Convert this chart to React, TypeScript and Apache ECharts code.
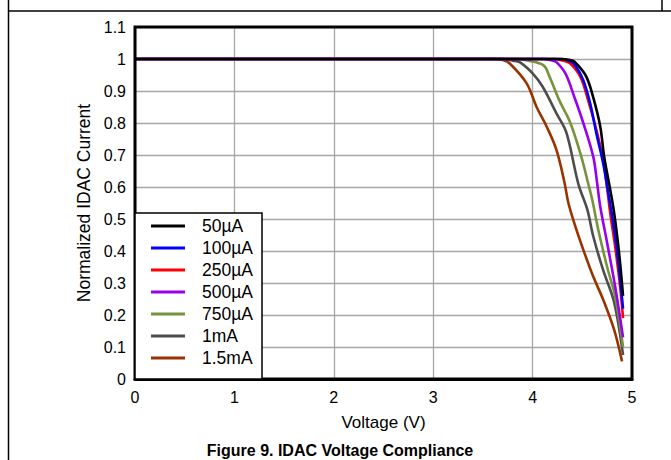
import React, { useEffect, useRef } from "react";
import * as echarts from "echarts";

const seriesNames = ["50µA", "100µA", "250µA", "500µA", "750µA", "1mA", "1.5mA"];
const seriesColors = ["#000000", "#0000ff", "#ff0000", "#9900ee", "#77933c", "#4d4d4d", "#993300"];

const v50 = [0, 4.3, 4.4, 4.44, 4.54, 4.61, 4.68, 4.72, 4.77, 4.82, 4.87, 4.91];
const i50 = [1, 1, 0.995, 0.986, 0.945, 0.88, 0.79, 0.695, 0.61, 0.52, 0.394, 0.26];

const v100 = [0, 4.28, 4.38, 4.43, 4.51, 4.58, 4.64, 4.71, 4.745, 4.8, 4.85, 4.91];
const i100 = [1, 1, 0.993, 0.98, 0.934, 0.86, 0.77, 0.674, 0.61, 0.51, 0.4, 0.22];

const v250 = [0, 4.22, 4.32, 4.38, 4.48, 4.56, 4.64, 4.71, 4.745, 4.78, 4.83, 4.88, 4.91];
const i250 = [1, 1, 0.994, 0.986, 0.945, 0.87, 0.78, 0.684, 0.61, 0.52, 0.415, 0.29, 0.19];

const v500 = [0, 4.1, 4.2, 4.24, 4.33, 4.41, 4.51, 4.61, 4.65, 4.68, 4.75, 4.83, 4.91];
const i500 = [1, 1, 0.995, 0.99, 0.955, 0.89, 0.8, 0.695, 0.61, 0.54, 0.425, 0.29, 0.13];

const v750 = [0, 3.85, 3.95, 4.11, 4.17, 4.27, 4.38, 4.49, 4.56, 4.6, 4.66, 4.75, 4.83, 4.91];
const i750 = [1, 1, 0.995, 0.98, 0.945, 0.87, 0.8, 0.695, 0.61, 0.56, 0.467, 0.35, 0.258, 0.1];

const v1m = [0, 3.7, 3.8, 3.87, 4.0, 4.1, 4.24, 4.34, 4.46, 4.55, 4.61, 4.71, 4.82, 4.91];
const i1m = [1, 1, 0.995, 0.99, 0.955, 0.914, 0.83, 0.77, 0.61, 0.53, 0.446, 0.34, 0.24, 0.075];

const v15m = [0, 3.6, 3.7, 3.77, 3.94, 4.04, 4.14, 4.24, 4.32, 4.36, 4.43, 4.51, 4.61, 4.71, 4.82, 4.9];
const i15m = [1, 1, 0.997, 0.986, 0.924, 0.85, 0.79, 0.716, 0.615, 0.55, 0.477, 0.404, 0.32, 0.248, 0.154, 0.055];

const voltages = [v50, v100, v250, v500, v750, v1m, v15m];
const currents = [i50, i100, i250, i500, i750, i1m, i15m];

const xTicks = ["0", "1", "2", "3", "4", "5"];
const yTicks = ["0", "0.1", "0.2", "0.3", "0.4", "0.5", "0.6", "0.7", "0.8", "0.9", "1", "1.1"];

const xName = "Voltage (V)";
const yName = "Normalized IDAC Current";
const figTitle = "Figure 9. IDAC Voltage Compliance";

const FONT = "'Liberation Sans', Arial, sans-serif";

export default function App() {
  const ref = useRef<HTMLDivElement>(null);
  useEffect(() => {
    if (!ref.current) return;
    const chart = echarts.init(ref.current, null, { renderer: "svg" });
    const series = seriesNames.map((name, k) => ({
      name,
      type: "line",
      data: voltages[k].map((v, j) => [v, currents[k][j]]),
      smooth: 0.35,
      showSymbol: false,
      symbol: "none",
      z: 2 + (seriesNames.length - k) * 0.01,
      lineStyle: { color: seriesColors[k], width: 2.6 },
      itemStyle: { color: seriesColors[k] },
    }));

    // legend box drawn with graphics
    const legendTop = 213;
    const legendRowGap = 22;
    const legendFirst = 226;
    const legendGraphics: any[] = [
      {
        type: "rect",
        z: 5,
        shape: { x: 135, y: legendTop, width: 127, height: 379 - legendTop },
        style: { fill: "#fff", stroke: "#000", lineWidth: 1.5 },
      },
    ];
    seriesNames.forEach((name, k) => {
      const y = legendFirst + k * legendRowGap;
      legendGraphics.push({
        type: "line",
        z: 6,
        shape: { x1: 151, y1: y, x2: 185, y2: y },
        style: { stroke: seriesColors[k], lineWidth: 3 },
      });
      legendGraphics.push({
        type: "text",
        z: 6,
        x: 202,
        y,
        style: {
          text: name,
          fontSize: 17.5,
          fontFamily: FONT,
          fill: "#000",
          align: "left",
          verticalAlign: "middle",
        },
      });
    });

    chart.setOption({
      animation: false,
      backgroundColor: "#ffffff",
      textStyle: { fontFamily: FONT },
      grid: {
        left: 135,
        top: 27,
        right: 39,
        bottom: 81,
        show: true,
        borderColor: "#000",
        borderWidth: 3,
        backgroundColor: "transparent",
        z: 3,
      },
      xAxis: {
        type: "value",
        min: 0,
        max: 5,
        interval: 1,
        name: xName,
        nameLocation: "middle",
        nameGap: 35,
        nameTextStyle: { fontSize: 17, color: "#000", fontFamily: FONT },
        axisLine: { show: true, lineStyle: { color: "#000", width: 3 } },
        axisTick: { show: false },
        axisLabel: {
          fontSize: 16,
          color: "#000",
          fontFamily: FONT,
          margin: 10,
          formatter: (v: number) => xTicks[Math.round(v)] ?? "",
        },
        splitLine: { show: true, lineStyle: { color: "#a6a6a6", width: 1.3 } },
      },
      yAxis: {
        type: "value",
        min: 0,
        max: 1.1,
        interval: 0.1,
        name: yName,
        nameLocation: "middle",
        nameGap: 34,
        nameTextStyle: { fontSize: 17.5, color: "#000", fontFamily: FONT },
        axisLine: { show: true, lineStyle: { color: "#000", width: 2 } },
        axisTick: { show: false },
        axisLabel: {
          fontSize: 16,
          color: "#000",
          fontFamily: FONT,
          margin: 9,
          formatter: (v: number) => yTicks[Math.round(v * 10)] ?? "",
        },
        splitLine: { show: true, lineStyle: { color: "#a6a6a6", width: 1.3 } },
      },
      graphic: [
        ...legendGraphics,
        {
          type: "line",
          shape: { x1: 8.5, y1: 0, x2: 8.5, y2: 460 },
          style: { stroke: "#000", lineWidth: 1.5 },
        },
        {
          type: "line",
          shape: { x1: 8, y1: 11, x2: 671, y2: 11 },
          style: { stroke: "#000", lineWidth: 1.5 },
        },
        {
          type: "line",
          shape: { x1: 662, y1: 0, x2: 662, y2: 11 },
          style: { stroke: "#000", lineWidth: 1.5 },
        },
        {
          type: "text",
          x: 340,
          y: 450,
          style: {
            text: figTitle,
            fontSize: 16,
            fontWeight: "bold",
            fontFamily: FONT,
            fill: "#000",
            align: "center",
            verticalAlign: "middle",
          },
        },
      ],
      series,
    });
    return () => chart.dispose();
  }, []);
  return (
    <div
      ref={ref}
      style={{ position: "absolute", left: 0, top: 0, width: 671, height: 460 }}
    />
  );
}
